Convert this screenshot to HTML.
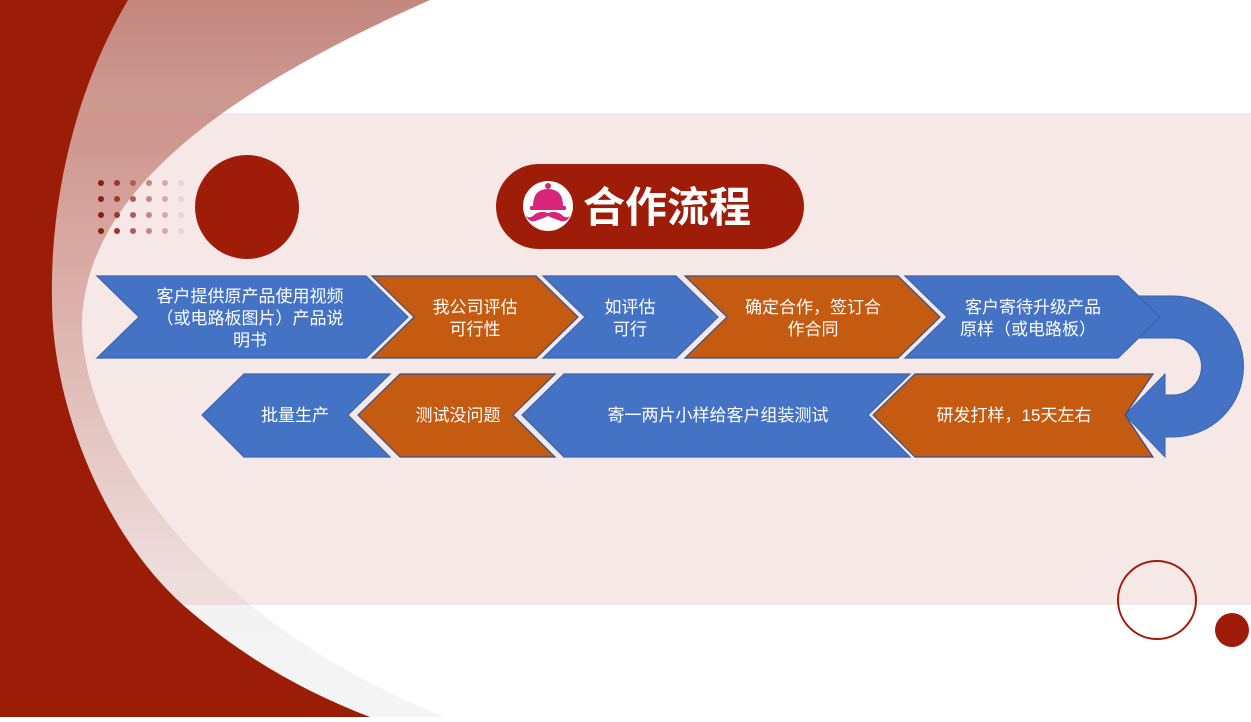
<!DOCTYPE html>
<html><head><meta charset="utf-8"><style>
html,body{margin:0;padding:0;}
body{width:1251px;height:717px;overflow:hidden;background:#fff;}
svg text{font-family:"Liberation Sans","Noto Sans CJK SC",sans-serif;fill:#fff;}
</style></head><body>
<svg width="1251" height="717" viewBox="0 0 1251 717" xmlns="http://www.w3.org/2000/svg">
<defs>
<linearGradient id="pg" x1="0" y1="0" x2="0" y2="1">
<stop offset="0" stop-color="#c3877e"/>
<stop offset="0.45" stop-color="#e2c0ba"/>
<stop offset="0.8" stop-color="#f4f2f2"/>
<stop offset="1" stop-color="#f5f5f5"/>
</linearGradient>
</defs>
<rect width="1251" height="717" fill="url(#pg)"/>
<path d="M430,0 C250,80 88,180 82,320 C80,440 200,620 445,717 L1251,717 L1251,0 Z" fill="#fff"/>
<rect x="0" y="113" width="1251" height="492" fill="rgb(200,120,110)" fill-opacity="0.17"/>
<path d="M0,0 L128,0 C75,90 50,200 52,300 C52,400 100,530 183,605 C240,655 300,690 370,717 L0,717 Z" fill="#9b1d08"/>
<!-- dots -->
<g>
<g fill="#8e1e10"><circle cx="101" cy="183" r="3"/><circle cx="101" cy="199" r="3"/><circle cx="101" cy="215" r="3"/><circle cx="101" cy="231" r="3"/></g>
<g fill="#a2352a"><circle cx="117" cy="183" r="3"/><circle cx="117" cy="199" r="3"/><circle cx="117" cy="215" r="3"/><circle cx="117" cy="231" r="3"/></g>
<g fill="#b25b52"><circle cx="133" cy="183" r="3"/><circle cx="133" cy="199" r="3"/><circle cx="133" cy="215" r="3"/><circle cx="133" cy="231" r="3"/></g>
<g fill="#c7857e"><circle cx="149" cy="183" r="3"/><circle cx="149" cy="199" r="3"/><circle cx="149" cy="215" r="3"/><circle cx="149" cy="231" r="3"/></g>
<g fill="#d8aaa6"><circle cx="165" cy="183" r="3"/><circle cx="165" cy="199" r="3"/><circle cx="165" cy="215" r="3"/><circle cx="165" cy="231" r="3"/></g>
<g fill="#ead2d0"><circle cx="181" cy="183" r="3"/><circle cx="181" cy="199" r="3"/><circle cx="181" cy="215" r="3"/><circle cx="181" cy="231" r="3"/></g>
</g>
<circle cx="247" cy="207" r="52" fill="#9e1c08"/>
<!-- title -->
<rect x="496" y="164" width="308" height="85" rx="42.5" fill="#9e1c08"/>
<circle cx="548" cy="206" r="25" fill="#fff"/>
<g fill="#d6257a">
<circle cx="548" cy="186" r="3"/>
<path d="M533,206 Q533,189 548,189 Q563,189 563,206 Z"/>
<rect x="530" y="206" width="36" height="4" rx="1"/>
<path d="M548,213 Q540,210 534,215 Q530,219 526,216 Q530,224 538,220 Q544,218 548,216 Q552,218 558,220 Q566,224 570,216 Q566,219 562,215 Q556,210 548,213 Z"/>
</g>
<text x="583" y="222" font-size="42" style="fill:#fff;font-weight:600">合作流程</text>
<!-- U-turn -->
<path d="M1130,296 L1173,296 A70.5,70.5 0 0 1 1173,437 L1165,437 L1165,457 L1125,415 L1165,374 L1165,395 L1173,395 A28.5,28.5 0 0 0 1173,338 L1130,338 Z" fill="#4472c4" stroke="#3b64ad" stroke-width="1"/>
<!-- row1 -->
<g stroke-width="1.2">
<path d="M97,276 L366,276 L408,317 L366,358 L97,358 L139,317 Z" fill="#4472c4" stroke="#3b64ad"/>
<path d="M372,276 L536,276 L578,317 L536,358 L372,358 L414,317 Z" fill="#c55a11" stroke="#2f528f"/>
<path d="M543,276 L676,276 L718,317 L676,358 L543,358 L585,317 Z" fill="#4472c4" stroke="#3b64ad"/>
<path d="M685,276 L898,276 L940,317 L898,358 L685,358 L727,317 Z" fill="#c55a11" stroke="#2f528f"/>
<path d="M905,276 L1118,276 L1160,317 L1118,358 L905,358 L947,317 Z" fill="#4472c4" stroke="#3b64ad"/>
<!-- row2 -->
<path d="M202,415 L244,374 L390,374 L348,415 L390,457 L244,457 Z" fill="#4472c4" stroke="#3b64ad"/>
<path d="M358,415 L400,374 L555,374 L513,415 L555,457 L400,457 Z" fill="#c55a11" stroke="#2f528f"/>
<path d="M522,415 L564,374 L910,374 L868,415 L910,457 L564,457 Z" fill="#4472c4" stroke="#3b64ad"/>
<path d="M873,415 L915,374 L1153,374 L1125,415 L1153,457 L915,457 Z" fill="#c55a11" stroke="#2f528f"/>
</g>
<g font-size="17" text-anchor="middle">
<text x="250" y="302">客户提供原产品使用视频</text>
<text x="250" y="324">（或电路板图片）产品说</text>
<text x="250" y="346">明书</text>
<text x="475" y="313">我公司评估</text>
<text x="475" y="335">可行性</text>
<text x="630" y="313">如评估</text>
<text x="630" y="335">可行</text>
<text x="813" y="313">确定合作，签订合</text>
<text x="813" y="335">作合同</text>
<text x="1033" y="313">客户寄待升级产品</text>
<text x="1028" y="335">原样（或电路板）</text>
<text x="295" y="421">批量生产</text>
<text x="458" y="421">测试没问题</text>
<text x="718" y="421">寄一两片小样给客户组装测试</text>
<text x="1014" y="421">研发打样，15天左右</text>
</g>
<!-- bottom right circles -->
<circle cx="1157" cy="600" r="39" fill="none" stroke="#a01c0a" stroke-width="2"/>
<circle cx="1232" cy="630" r="17" fill="#a01c0a"/>
</svg>
</body></html>
